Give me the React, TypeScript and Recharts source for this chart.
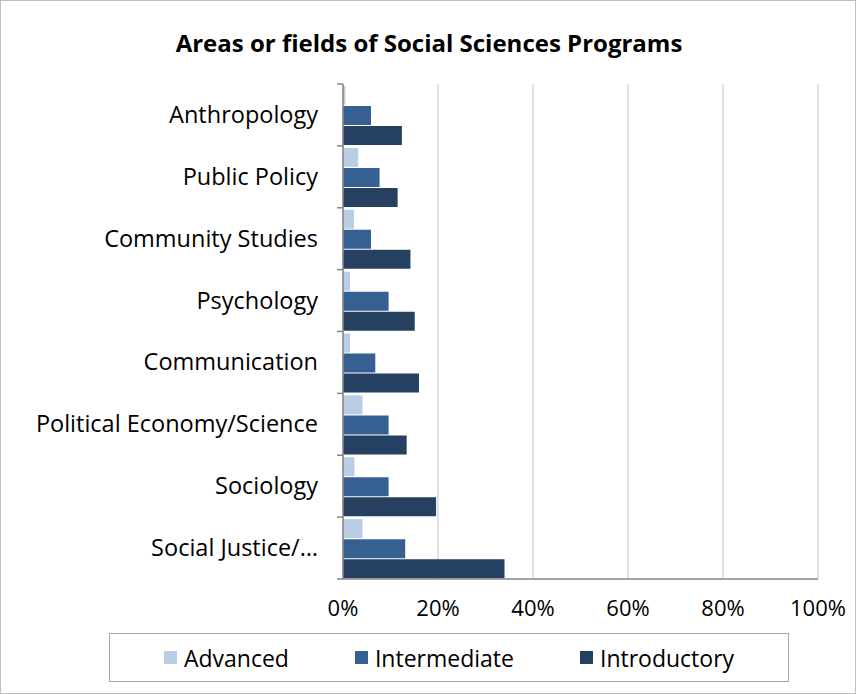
import React from 'react';
import { BarChart, Bar, XAxis, YAxis, CartesianGrid } from 'recharts';

const categories = [
  'Anthropology',
  'Public Policy',
  'Community Studies',
  'Psychology',
  'Communication',
  'Political Economy/Science',
  'Sociology',
  'Social Justice/…',
];

// percentages
const advanced = [0.5, 3.2, 2.3, 1.5, 1.5, 4.1, 2.4, 4.1];
const intermediate = [5.9, 7.7, 5.9, 9.6, 6.8, 9.6, 9.6, 13.1];
const introductory = [12.4, 11.5, 14.2, 15.1, 16.0, 13.4, 19.6, 34.0];

const xTicks = [0, 20, 40, 60, 80, 100];

const series = [
  { key: 'advanced', name: 'Advanced', color: '#b9cde5' },
  { key: 'intermediate', name: 'Intermediate', color: '#376092' },
  { key: 'introductory', name: 'Introductory', color: '#254061' },
];

const W = 856;
const H = 694;
const FONT = '"Open Sans", Carlito, Calibri, sans-serif';
const MARGIN = { top: 84, right: 38, bottom: 75, left: 0 };
const X_AXIS_H = 40;
const PLOT_H = H - MARGIN.top - MARGIN.bottom - X_AXIS_H;
const BAND = PLOT_H / categories.length;
const LABEL_GAP = 25;

const data = categories.map((name, i) => ({
  name,
  advanced: advanced[i],
  intermediate: intermediate[i],
  introductory: introductory[i],
}));

const CategoryTick = (props: any) => {
  const { x, y, payload, index } = props;
  const ax = x + LABEL_GAP;
  return (
    <g>
      {index === 0 && (
        <line x1={ax - 6} x2={ax} y1={y - BAND / 2} y2={y - BAND / 2} stroke="#868686" strokeWidth={1.5} />
      )}
      <line x1={ax - 6} x2={ax} y1={y + BAND / 2} y2={y + BAND / 2} stroke="#868686" strokeWidth={1.5} />
      <text x={x} y={y} dy={8} textAnchor="end" fill="#000" fontSize={23.5} fontFamily={FONT}>
        {payload.value}
      </text>
    </g>
  );
};

export default function App() {
  return (
    <div
      style={{
        position: 'absolute',
        left: 0,
        top: 0,
        width: W,
        height: H,
        boxSizing: 'border-box',
        border: '1px solid #bfbfbf',
        background: '#fff',
        fontFamily: FONT,
      }}
    >
      <div
        style={{
          position: 'absolute',
          top: 25,
          left: 0,
          width: W,
          textAlign: 'center',
          fontWeight: 'bold',
          fontSize: 24,
          color: '#000',
        }}
      >
        Areas or fields of Social Sciences Programs
      </div>
      <div style={{ position: 'absolute', left: -1, top: -1 }}>
        <BarChart
          width={W}
          height={H}
          data={data}
          layout="vertical"
          margin={MARGIN}
          barCategoryGap={2}
          barGap={1}
        >
          <CartesianGrid horizontal={false} stroke="#d9d9d9" strokeWidth={1.5} />
          <XAxis
            type="number"
            domain={[0, 100]}
            ticks={xTicks}
            tickFormatter={(v: number) => `${v}%`}
            height={X_AXIS_H}
            axisLine={{ stroke: '#868686', strokeWidth: 1.5 }}
            tickLine={false}
            tickMargin={15}
            tick={{ fill: '#000', fontSize: 22, fontFamily: FONT }}
            interval={0}
          />
          <YAxis
            type="category"
            dataKey="name"
            width={343}
            axisLine={{ stroke: '#868686', strokeWidth: 1.5 }}
            tickLine={false}
            tickSize={0}
            tickMargin={LABEL_GAP}
            tick={<CategoryTick />}
            interval={0}
          />
          {series.map((s) => (
            <Bar key={s.key} dataKey={s.key} name={s.name} fill={s.color} isAnimationActive={false} />
          ))}
        </BarChart>
      </div>
      <div
        style={{
          position: 'absolute',
          left: 108,
          top: 632,
          width: 680,
          height: 49,
          boxSizing: 'border-box',
          border: '1px solid #a6a6a6',
          display: 'flex',
          alignItems: 'center',
          justifyContent: 'center',
          gap: 66,
          fontSize: 23,
          color: '#000',
        }}
      >
        {series.map((s) => (
          <div key={s.key} style={{ display: 'flex', alignItems: 'center' }}>
            <span style={{ width: 13, height: 13, background: s.color, display: 'inline-block', marginRight: 7 }} />
            <span>{s.name}</span>
          </div>
        ))}
      </div>
    </div>
  );
}
